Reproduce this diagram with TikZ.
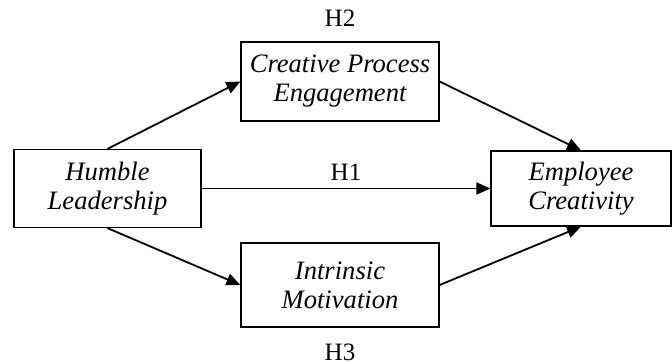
\documentclass[tikz,border=0pt]{standalone}
\usepackage{fontspec}
\setmainfont{Liberation Serif}
\usepackage{tikz}
\usetikzlibrary{arrows.meta, positioning}

\begin{document}
\begin{tikzpicture}[x=0.5pt, y=-0.5pt, ->, >={Triangle[length=7pt,width=6pt]}, line width=0.9pt]
  \tikzstyle{construct} = [rectangle, draw, line width=0.6pt, align=center, inner sep=0pt, font=\fontsize{13.3}{14.5}\selectfont\itshape]
  \tikzstyle{hyp} = [font=\fontsize{12.5}{14}\selectfont]

  \useasboundingbox (0,0) rectangle (672,363);

  \node[construct, minimum width=93.5pt, minimum height=39pt] (Humble) at (107.5,188.5) {Humble\\Leadership};
  \node[construct, minimum width=99pt, minimum height=39.5pt] (Creative) at (340,81.5) {Creative Process\\Engagement};
  \node[construct, minimum width=99pt, minimum height=42pt] (Intrinsic) at (340,285) {Intrinsic\\Motivation};
  \node[construct, minimum width=90pt, minimum height=37.5pt] (Employee) at (581,188.5) {Employee\\Creativity};

  \node[hyp] (H2) at (340,18) {H2};
  \node[hyp] (H3) at (340,352) {H3};

  \path
    (Humble.north) edge (Creative.west)
    (Humble.south) edge (Intrinsic.west)
    (Humble) edge node [hyp, above] {H1} (Employee)
    (Creative.east) edge (Employee.north)
    (Intrinsic.east) edge (Employee.south);
\end{tikzpicture}
\end{document}
